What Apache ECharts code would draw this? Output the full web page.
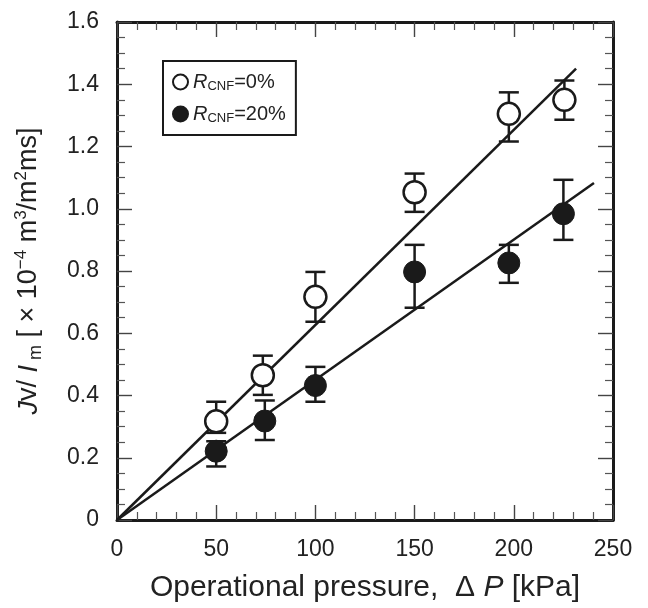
<!DOCTYPE html>
<html>
<head>
<meta charset="utf-8">
<script src="https://cdn.jsdelivr.net/npm/echarts@6/dist/echarts.min.js"></script>
<style>
  html, body { margin: 0; padding: 0; background: #fff; }
  #chart { width: 648px; height: 608px; }
</style>
</head>
<body>
<div id="chart"></div>
<script>
// R_CNF = 0 %  (open circles)
const pressure0 = [50, 73.5, 100, 150, 197.5, 225.5]
const jv0 = [0.317, 0.465, 0.717, 1.053, 1.305, 1.350]
const jv0Low = [0.280, 0.402, 0.637, 0.990, 1.216, 1.286]
const jv0High = [0.380, 0.528, 0.797, 1.113, 1.374, 1.412]

// R_CNF = 20 %  (filled circles)
const pressure20 = [50, 74.5, 100, 150, 197.5, 225]
const jv20 = [0.221, 0.318, 0.432, 0.797, 0.826, 0.984]
const jv20Low = [0.172, 0.257, 0.380, 0.682, 0.762, 0.900]
const jv20High = [0.253, 0.384, 0.492, 0.884, 0.884, 1.093]

// linear fits through the origin (end points)
const fit0 = [[0, 0], [231.4, 1.45]]
const fit20 = [[0, 0], [240.4, 1.083]]

const xTicks = [0, 50, 100, 150, 200, 250]
const yTicks = [0, 0.2, 0.4, 0.6, 0.8, 1.0, 1.2, 1.4, 1.6]

const INK = '#1a1a1a'
const TEXT = '#222'
const FONT = '"Liberation Sans", Arial, sans-serif'

const chart = echarts.init(document.getElementById('chart'))

// vertical error bar with caps, drawn through the axis scales
const errorBar = (params, api) => {
  const x = api.value(0)
  const lo = api.coord([x, api.value(1)])
  const hi = api.coord([x, api.value(2)])
  const half = 10
  const style = { stroke: INK, lineWidth: 2.5 }
  return {
    type: 'group',
    children: [
      { type: 'line', shape: { x1: lo[0], y1: lo[1], x2: hi[0], y2: hi[1] }, style },
      { type: 'line', shape: { x1: lo[0] - half, y1: lo[1], x2: lo[0] + half, y2: lo[1] }, style },
      { type: 'line', shape: { x1: hi[0] - half, y1: hi[1], x2: hi[0] + half, y2: hi[1] }, style },
    ],
  }
}

const frameAxis = (extra, minorSplit) => Object.assign({
  type: 'value',
  axisLine: { show: true, onZero: false, lineStyle: { color: INK, width: 3 } },
  axisTick: { show: true, inside: true, length: 15, lineStyle: { color: '#444', width: 1.4 } },
  minorTick: { show: true, splitNumber: minorSplit, length: 8, lineStyle: { color: '#555', width: 1.2 } },
  splitLine: { show: false },
  minorSplitLine: { show: false },
}, extra)

const xBase = { min: xTicks[0], max: xTicks[xTicks.length - 1], interval: 50 }
const yBase = { min: yTicks[0], max: yTicks[yTicks.length - 1], interval: 0.2 }

chart.setOption({
  animation: false,
  backgroundColor: '#fff',
  textStyle: { fontFamily: FONT },
  grid: { left: 117, right: 35, top: 22, bottom: 88, containLabel: false, outerBoundsMode: 'none' },
  legend: {
    left: 163,
    top: 61,
    orient: 'vertical',
    borderColor: INK,
    borderWidth: 2,
    borderRadius: 0,
    padding: [11, 10, 10, 9],
    itemGap: 11,
    itemWidth: 15,
    itemHeight: 15,
    textStyle: {
      color: TEXT,
      fontSize: 20,
      rich: {
        r: { fontSize: 20, fontStyle: 'italic', color: TEXT, lineHeight: 22 },
        s: { fontSize: 13, color: TEXT, verticalAlign: 'bottom' },
        n: { fontSize: 20, color: TEXT, lineHeight: 22 },
      },
    },
    formatter: (name) => name === 'r0' ? '{r|R}{s|CNF}{n|=0%}' : '{r|R}{s|CNF}{n|=20%}',
    data: ['r0', 'r20'],
  },
  xAxis: [
    frameAxis(Object.assign({}, xBase, {
      position: 'bottom',
      axisLabel: { color: TEXT, fontSize: 23, margin: 18 },
      name: 'Operational pressure,  {n|\u0394 }{it|P} [kPa]',
      nameLocation: 'middle',
      nameGap: 53,
      nameTextStyle: {
        color: TEXT,
        fontSize: 30,
        rich: {
          n: { fontSize: 30, color: TEXT },
          it: { fontSize: 30, color: TEXT, fontStyle: 'italic' },
        },
      },
    }), 5),
    frameAxis(Object.assign({}, xBase, {
      position: 'top',
      axisLabel: { show: false },
    }), 5),
  ],
  yAxis: [
    frameAxis(Object.assign({}, yBase, {
      position: 'left',
      axisLabel: {
        color: TEXT,
        fontSize: 23,
        margin: 18,
        formatter: (v) => v === 0 ? '0' : v.toFixed(1),
      },
      name: '{it|J}{n|v/ }{it|I}{sub| m}{n| [ \u00d7 10}{sup|\u22124}{n| m}{sup|3}{n|/m}{sup|2}{n|ms]}',
      nameLocation: 'middle',
      nameRotate: 90,
      nameGap: 72,
      nameTextStyle: {
        color: TEXT,
        fontSize: 27,
        rich: {
          it: { fontSize: 27, color: TEXT, fontStyle: 'italic', lineHeight: 32 },
          n: { fontSize: 27, color: TEXT, lineHeight: 32 },
          sub: { fontSize: 18, color: TEXT, verticalAlign: 'bottom' },
          sup: { fontSize: 17, color: TEXT, verticalAlign: 'top' },
        },
      },
    }), 4),
    frameAxis(Object.assign({}, yBase, {
      position: 'right',
      axisLabel: { show: false },
    }), 4),
  ],
  series: [
    {
      name: 'fit0',
      type: 'line',
      data: fit0,
      showSymbol: false,
      silent: true,
      lineStyle: { color: INK, width: 2.5 },
      z: 1,
    },
    {
      name: 'fit20',
      type: 'line',
      data: fit20,
      showSymbol: false,
      silent: true,
      lineStyle: { color: INK, width: 2.5 },
      z: 1,
    },
    {
      name: 'err0',
      type: 'custom',
      renderItem: errorBar,
      encode: { x: 0, y: [1, 2] },
      data: pressure0.map((p, i) => [p, jv0Low[i], jv0High[i]]),
      z: 2,
    },
    {
      name: 'err20',
      type: 'custom',
      renderItem: errorBar,
      encode: { x: 0, y: [1, 2] },
      data: pressure20.map((p, i) => [p, jv20Low[i], jv20High[i]]),
      z: 2,
    },
    {
      name: 'r0',
      type: 'scatter',
      symbol: 'circle',
      symbolSize: 22,
      data: pressure0.map((p, i) => [p, jv0[i]]),
      itemStyle: { color: '#fff', borderColor: INK, borderWidth: 2.5, opacity: 1 },
      z: 3,
    },
    {
      name: 'r20',
      type: 'scatter',
      symbol: 'circle',
      symbolSize: 22,
      data: pressure20.map((p, i) => [p, jv20[i]]),
      itemStyle: { color: INK, borderColor: INK, borderWidth: 1, opacity: 1 },
      z: 3,
    },
  ],
})
</script>
</body>
</html>
